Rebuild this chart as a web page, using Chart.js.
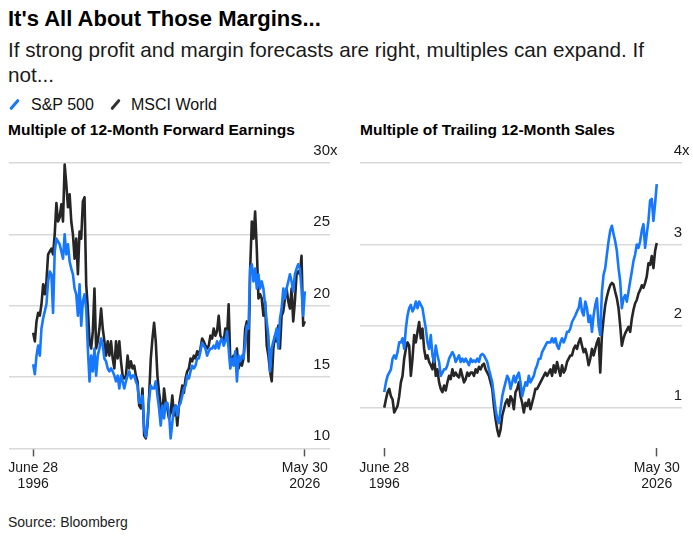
<!DOCTYPE html>
<html>
<head>
<meta charset="utf-8">
<script src="https://cdn.jsdelivr.net/npm/chart.js@4.4.1/dist/chart.umd.min.js"></script>
<style>
  body { margin: 0; width: 693px; height: 539px; position: relative; overflow: hidden; background: #fff;
         font-family: "Liberation Sans", Arial, sans-serif; color: #111; }
  .t { position: absolute; left: 8px; white-space: nowrap; }
  #title { top: 8px; font-size: 22px; line-height: 22px; font-weight: bold; color: #000; }
  #sub { top: 37px; font-size: 20.7px; line-height: 25px; color: #1a1a1a; }
  .leg { position: absolute; top: 97px; font-size: 16px; line-height: 16px; white-space: nowrap; }
  .sw { position: absolute; top: 98px; width: 3px; height: 13px; border-radius: 2px; transform: rotate(40deg); }
  .ptitle { position: absolute; top: 122px; font-size: 15.5px; line-height: 15.5px; font-weight: bold; color: #000; white-space: nowrap; }
  #source { top: 515px; font-size: 14px; line-height: 14px; color: #222; }
  canvas { position: absolute; }
</style>
</head>
<body>
<div class="t" id="title">It's All About Those Margins...</div>
<div class="t" id="sub">If strong profit and margin forecasts are right, multiples can expand. If<br>not...</div>
<span class="sw" style="left:13px;background:#1677ff"></span><span class="leg" style="left:31px">S&amp;P 500</span>
<span class="sw" style="left:114px;background:#333"></span><span class="leg" style="left:131px">MSCI World</span>
<div class="ptitle" style="left:8px">Multiple of 12-Month Forward Earnings</div>
<div class="ptitle" style="left:360px">Multiple of Trailing 12-Month Sales</div>
<canvas id="peChart" width="346" height="357" style="left:0;top:140px"></canvas>
<canvas id="psChart" width="343" height="357" style="left:350px;top:140px"></canvas>
<div class="t" id="source">Source: Bloomberg</div>

<script>
const seriesNames = ['S&P 500', 'MSCI World'];
const xTickLabels = [['June 28', '1996'], ['May 30', '2026']];
const peTicks = [10, 15, 20, 25, 30];
const psTicks = [1, 2, 3, 4];

// multiple of 12-month forward earnings, roughly every ~10 weeks, June 1996 - May 2026
const spPe = [
  15.9, 15.2, 16.5, 17.2, 16.5, 18.4, 19.1, 19.6, 20.1, 21.7,
  22.4, 22.2, 19.5, 23.8, 24.7, 24.5, 24.3, 23.8, 23.3, 25.0,
  23.6, 24.3, 23.1, 22.6, 22.2, 21.2, 20.8, 19.3, 21.5, 18.6,
  20.3, 20.8, 19.8, 17.0, 14.7, 16.5, 15.4, 17.0, 15.1, 16.5,
  17.0, 17.7, 17.2, 16.3, 16.1, 15.6, 15.4, 15.6, 15.4, 15.1,
  14.7, 15.1, 14.2, 15.1, 14.7, 14.2, 14.7, 15.1, 15.4, 14.9,
  15.1, 15.1, 14.7, 14.4, 13.2, 13.2, 13.7, 11.4, 10.8, 11.8,
  13.5, 14.4, 14.2, 14.2, 14.7, 13.7, 12.8, 11.6, 13.0, 12.1,
  13.2, 13.2, 12.5, 10.7, 11.8, 12.8, 13.0, 12.3, 13.0, 13.2,
  13.7, 14.2, 14.4, 15.1, 14.9, 15.4, 15.8, 15.6, 15.8, 16.3,
  16.3, 16.8, 17.4, 17.2, 17.0, 16.5, 16.8, 17.0, 17.0, 17.2,
  17.0, 17.5, 17.0, 17.5, 17.7, 17.2, 17.5, 18.2, 17.0, 15.6,
  16.3, 15.8, 16.8, 14.7, 16.5, 16.1, 16.5, 16.3, 17.5, 18.6,
  18.4, 22.6, 22.9, 21.7, 22.6, 21.2, 22.2, 21.2, 21.7, 21.2,
  20.1, 18.9, 17.9, 15.4, 17.0, 17.5, 17.9, 18.4, 17.0, 19.1,
  19.8, 21.2, 20.5, 21.2, 21.7, 22.2, 21.7, 21.0, 22.2, 22.6,
  22.9, 22.6, 21.2, 19.3, 21.0
];
const msciPe = [
  18.1, 17.5, 18.9, 19.5, 19.3, 20.1, 21.5, 20.8, 21.7, 23.6,
  23.8, 24.0, 23.6, 25.0, 27.2, 25.9, 26.2, 27.1, 25.9, 29.9,
  28.5, 26.9, 27.8, 25.9, 25.0, 23.3, 24.7, 22.2, 25.2, 24.7,
  27.3, 27.6, 21.5, 19.8, 17.5, 17.0, 18.2, 21.2, 17.0, 17.5,
  18.4, 19.8, 18.4, 17.5, 16.5, 17.5, 16.5, 17.5, 16.3, 15.6,
  17.5, 16.3, 17.5, 16.1, 15.1, 14.9, 15.1, 16.5, 15.6, 16.1,
  15.6, 15.8, 15.1, 14.7, 13.0, 12.8, 14.2, 10.9, 10.7, 11.6,
  13.7, 16.3, 17.7, 18.8, 17.5, 15.1, 13.9, 13.0, 12.3, 14.2,
  13.2, 12.8, 12.1, 12.5, 13.7, 12.3, 13.0, 11.6, 13.0, 13.7,
  14.4, 13.9, 14.9, 15.4, 15.6, 16.3, 16.1, 16.5, 16.3, 16.8,
  16.5, 17.0, 17.7, 17.5, 17.2, 17.0, 17.2, 17.9, 17.7, 18.4,
  17.9, 18.2, 19.3, 17.9, 17.7, 17.5, 18.4, 17.7, 20.1, 16.1,
  16.3, 16.5, 16.1, 17.0, 15.6, 16.1, 15.8, 16.3, 18.4, 18.9,
  16.1, 22.6, 25.9, 24.7, 26.6, 24.0, 20.5, 20.8, 20.5, 19.3,
  20.3, 17.2, 16.5, 15.4, 14.7, 17.0, 17.9, 17.5, 18.6, 17.0,
  19.3, 19.6, 20.5, 21.2, 20.3, 19.8, 21.2, 18.9, 20.3, 22.2,
  22.4, 22.2, 23.5, 18.6, 18.9
];

// multiple of trailing 12-month sales, same dates
const spPs = [
  1.19, 1.31, 1.39, 1.43, 1.47, 1.60, 1.64, 1.60, 1.68, 1.80,
  1.80, 1.85, 1.72, 1.97, 2.13, 2.22, 2.26, 2.18, 2.22, 2.30,
  2.22, 2.30, 2.26, 2.22, 2.09, 1.97, 1.80, 1.72, 1.89, 1.64,
  1.56, 1.76, 1.64, 1.56, 1.39, 1.43, 1.47, 1.47, 1.52, 1.60,
  1.64, 1.68, 1.64, 1.56, 1.60, 1.64, 1.56, 1.60, 1.56, 1.60,
  1.56, 1.52, 1.60, 1.56, 1.58, 1.56, 1.60, 1.56, 1.64, 1.66,
  1.64, 1.60, 1.56, 1.47, 1.39, 1.31, 1.14, 0.98, 0.86, 0.81,
  0.98, 1.14, 1.23, 1.31, 1.39, 1.35, 1.23, 1.31, 1.39, 1.31,
  1.39, 1.43, 1.31, 1.14, 1.23, 1.31, 1.27, 1.39, 1.31, 1.35,
  1.39, 1.47, 1.52, 1.60, 1.60, 1.68, 1.72, 1.76, 1.80, 1.80,
  1.80, 1.85, 1.80, 1.85, 1.76, 1.72, 1.80, 1.85, 1.80, 1.85,
  1.93, 1.93, 1.97, 2.05, 2.09, 2.13, 2.18, 2.22, 2.34, 2.18,
  2.13, 2.30, 2.22, 2.05, 2.13, 1.93, 2.13, 2.26, 2.34, 2.01,
  1.89, 2.42, 2.63, 2.71, 2.88, 3.04, 3.17, 3.23, 3.13, 3.04,
  2.92, 2.71, 2.55, 2.22, 2.34, 2.38, 2.30, 2.42, 2.55, 2.67,
  2.80, 2.88, 3.00, 2.96, 3.04, 3.17, 3.25, 2.96, 3.13, 3.29,
  3.54, 3.56, 3.29, 3.50, 3.74
];
const msciPs = [
  1.00, 1.10, 1.19, 1.23, 1.14, 1.10, 0.94, 0.98, 1.02, 1.14,
  1.31, 1.39, 1.60, 1.72, 1.80, 1.76, 1.39, 1.60, 1.89, 1.80,
  1.93, 2.05, 1.85, 1.97, 1.72, 1.60, 1.64, 1.56, 1.52, 1.47,
  1.64, 1.39, 1.47, 1.31, 1.23, 1.19, 1.27, 1.21, 1.31, 1.39,
  1.35, 1.47, 1.39, 1.43, 1.39, 1.37, 1.47, 1.39, 1.31, 1.35,
  1.43, 1.39, 1.43, 1.43, 1.39, 1.47, 1.43, 1.50, 1.47, 1.52,
  1.54, 1.47, 1.43, 1.39, 1.31, 1.23, 1.02, 0.86, 0.73, 0.65,
  0.73, 0.90, 0.98, 1.06, 1.10, 1.02, 1.14, 1.10, 0.98, 1.19,
  1.23, 1.31, 1.14, 1.06, 0.94, 1.06, 1.02, 1.10, 0.98, 1.06,
  1.14, 1.23, 1.23, 1.27, 1.31, 1.35, 1.39, 1.43, 1.39, 1.43,
  1.47, 1.39, 1.52, 1.43, 1.56, 1.47, 1.39, 1.52, 1.43, 1.47,
  1.56, 1.60, 1.64, 1.64, 1.72, 1.76, 1.72, 1.80, 1.85, 1.76,
  1.68, 1.72, 1.64, 1.52, 1.60, 1.72, 1.64, 1.72, 1.80, 1.85,
  1.43, 1.89, 2.09, 2.26, 2.36, 2.44, 2.50, 2.53, 2.51, 2.42,
  2.34, 2.22, 2.01, 1.76, 1.85, 1.91, 1.95, 1.99, 1.93, 2.09,
  2.20, 2.28, 2.32, 2.40, 2.44, 2.50, 2.47, 2.53, 2.61, 2.77,
  2.75, 2.86, 2.71, 2.92, 3.02
];

const FONT = '"Liberation Sans", Arial, sans-serif';
Chart.defaults.font.family = FONT;
Chart.defaults.color = '#1a1a1a';

// y labels sit above their gridline, number right-aligned, "x" hanging on the top one
const yLabels = {
  id: 'yLabels',
  afterDraw(chart, args, opts) {
    const { ctx, chartArea } = chart;
    const y = chart.scales.y;
    ctx.save();
    ctx.font = '15px ' + FONT;
    ctx.fillStyle = '#1a1a1a';
    ctx.textBaseline = 'alphabetic';
    opts.ticks.forEach((v, i) => {
      const py = y.getPixelForValue(v) - 8;
      ctx.textAlign = 'right';
      ctx.fillText(String(v), chartArea.right, py);
      if (i === opts.ticks.length - 1) {
        ctx.textAlign = 'left';
        ctx.fillText('x', chartArea.right, py);
      }
    });
    ctx.restore();
  }
};

function toPoints(arr) {
  return arr.map((v, i) => ({ x: i, y: v }));
}

function makePanel(id, sp, msci, yMin, yMax, ticks, pad) {
  const last = sp.length - 1;
  return new Chart(document.getElementById(id), {
    type: 'line',
    data: {
      datasets: [
        { label: seriesNames[0], data: toPoints(sp), borderColor: '#1677ff', borderWidth: 2.6,
          pointRadius: 0, tension: 0, borderJoinStyle: 'round' },
        { label: seriesNames[1], data: toPoints(msci), borderColor: '#262626', borderWidth: 2.6,
          pointRadius: 0, tension: 0, borderJoinStyle: 'round' }
      ]
    },
    options: {
      responsive: false,
      animation: false,
      events: [],
      layout: { padding: pad },
      scales: {
        x: {
          type: 'linear',
          min: -14.6,
          max: last + 15.2,
          afterBuildTicks: s => { s.ticks = [{ value: 0 }, { value: last }]; },
          grid: { drawOnChartArea: false, drawTicks: true, tickLength: 8, tickColor: '#555', tickWidth: 1.5 },
          border: { display: false },
          ticks: {
            autoSkip: false, maxRotation: 0, padding: 3,
            font: { size: 14 }, color: '#1a1a1a',
            callback: v => (v === 0 ? xTickLabels[0] : xTickLabels[1])
          }
        },
        y: {
          position: 'right',
          min: yMin,
          max: yMax,
          afterBuildTicks: s => { s.ticks = ticks.map(v => ({ value: v })); },
          grid: { color: '#d9d9d9', lineWidth: 1.5, drawTicks: false },
          border: { display: false },
          ticks: { display: false }
        }
      },
      plugins: {
        legend: { display: false },
        tooltip: { enabled: false },
        yLabels: { ticks: ticks }
      }
    },
    plugins: [yLabels]
  });
}

makePanel('peChart', spPe, msciPe, 10, 30, peTicks, { left: 9, right: 16, top: 23, bottom: 1 });
makePanel('psChart', spPs, msciPs, 0.5, 4, psTicks, { left: 10, right: 11, top: 23, bottom: 1 });
</script>
</body>
</html>
